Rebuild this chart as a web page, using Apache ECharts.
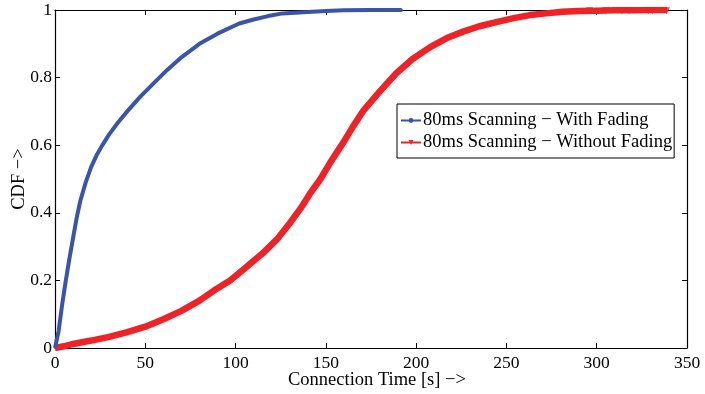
<!DOCTYPE html>
<html>
<head>
<meta charset="utf-8">
<script src="https://cdn.jsdelivr.net/npm/echarts@6/dist/echarts.min.js"></script>
<style>
html,body{margin:0;padding:0;background:#fff;}
#chart{width:705px;height:394px;}
</style>
</head>
<body>
<div id="chart"></div>
<script>
// ---- data ----
var seriesNames = ['80ms Scanning \u2212 With Fading', '80ms Scanning \u2212 Without Fading'];
var xTicks = [0, 50, 100, 150, 200, 250, 300, 350];
var yTicks = [0, 0.2, 0.4, 0.6, 0.8, 1];

var blueT = [0, 2, 4, 6, 8, 10, 12, 14, 17, 20, 23, 26, 30, 35, 40, 47, 55, 62, 70, 80, 90, 102, 110, 118, 126, 140, 150, 160, 175, 192];
var blueY = [0, 0.05, 0.13, 0.2, 0.265, 0.325, 0.385, 0.435, 0.49, 0.535, 0.57, 0.598, 0.632, 0.668, 0.70, 0.742, 0.785, 0.822, 0.86, 0.90, 0.93, 0.96, 0.972, 0.982, 0.99, 0.994, 0.997, 0.999, 1.0, 1.0];
var blueTailT = [160, 165, 169, 173, 177, 181, 185, 189, 192];
var blueTailY = [0.999, 0.999, 0.999, 0.999, 0.999, 0.999, 0.999, 0.999, 0.999];

var redT = [0, 5, 10, 20, 30, 40, 50, 60, 70, 80, 88, 97, 105, 115, 123, 130, 136, 141, 147, 152, 156, 160, 165, 171, 180, 189, 198, 208, 217, 226, 235, 245, 254, 263, 272, 281, 290, 300, 310, 320, 330, 339];
var redY = [0, 0.005, 0.012, 0.022, 0.033, 0.047, 0.063, 0.085, 0.11, 0.14, 0.17, 0.20, 0.235, 0.28, 0.322, 0.369, 0.413, 0.455, 0.50, 0.545, 0.578, 0.611, 0.655, 0.704, 0.76, 0.813, 0.855, 0.891, 0.917, 0.936, 0.952, 0.965, 0.976, 0.985, 0.99, 0.995, 0.997, 0.998, 0.999, 0.9995, 1.0, 1.0];
var redTailT = [296, 305, 314, 318, 328.5, 331, 338.6];
var redTailY = [0.998, 0.998, 0.998, 0.998, 0.998, 0.998, 0.998];

function pairs(a, b) { return a.map(function (v, i) { return [v, b[i]]; }); }

var BLUE = '#3a55a8', RED = '#ee2227';
var FONT = 'Liberation Serif, Times New Roman, serif';

var chart = echarts.init(document.getElementById('chart'), null, {renderer: 'canvas'});
function axisCommon() {
  return {
    axisLine: {show: true, onZero: false, lineStyle: {color: '#000', width: 1.2}},
    axisTick: {show: true, inside: true, length: 5, lineStyle: {color: '#000', width: 1}},
    splitLine: {show: false}
  };
}
chart.setOption({
  animation: false,
  backgroundColor: '#fff',
  grid: {left: 55, right: 18, top: 10, bottom: 46, containLabel: false, outerBoundsMode: 'none'},
  xAxis: [
    Object.assign({
      type: 'value', min: 0, max: 350, interval: 50, position: 'bottom',
      name: 'Connection Time [s] \u2212>', nameLocation: 'middle', nameGap: 23, nameMoveOverlap: false,
      nameTextStyle: {fontFamily: FONT, fontSize: 18.5, color: '#000', padding: [0, 0, 0, 12]},
      axisLabel: {fontFamily: FONT, fontSize: 17.5, color: '#000', margin: 6,
        formatter: function (v) { return xTicks.indexOf(v) >= 0 ? String(v) : ''; }}
    }, axisCommon()),
    Object.assign({
      type: 'value', min: 0, max: 350, interval: 50, position: 'top',
      axisLabel: {show: false}
    }, axisCommon())
  ],
  yAxis: [
    Object.assign({
      type: 'value', min: 0, max: 1, interval: 0.2, position: 'left',
      name: 'CDF \u2212>', nameLocation: 'middle', nameGap: 26, nameMoveOverlap: false,
      nameTextStyle: {fontFamily: FONT, fontSize: 18.5, color: '#000'},
      axisLabel: {fontFamily: FONT, fontSize: 17.5, color: '#000', margin: 3,
        formatter: function (v) {
          for (var i = 0; i < yTicks.length; i++) if (Math.abs(yTicks[i] - v) < 1e-9) return String(yTicks[i]);
          return '';
        }}
    }, axisCommon()),
    Object.assign({
      type: 'value', min: 0, max: 1, interval: 0.2, position: 'right',
      axisLabel: {show: false}
    }, axisCommon())
  ],
  legend: {
    orient: 'vertical', left: 397, top: 104,
    data: seriesNames,
    itemWidth: 20, itemHeight: 6, itemGap: 3,
    padding: [7, 2, 6, 3],
    borderColor: '#000', borderWidth: 1, borderRadius: 0,
    backgroundColor: '#fff',
    textStyle: {fontFamily: FONT, fontSize: 18.5, color: '#000', padding: [0, 0, 0, -3]}
  },
  series: [
    {
      name: seriesNames[0], type: 'line', data: pairs(blueT, blueY),
      xAxisIndex: 0, yAxisIndex: 0,
      symbol: 'circle', symbolSize: 3, showSymbol: false,
      lineStyle: {color: BLUE, width: 4}, itemStyle: {color: BLUE}, z: 3
    },
    {
      name: seriesNames[1], type: 'line', data: pairs(redT, redY),
      xAxisIndex: 0, yAxisIndex: 0,
      symbol: 'triangle', symbolRotate: 180, symbolSize: 7, showSymbol: false,
      lineStyle: {color: RED, width: 6.5}, itemStyle: {color: RED}, z: 2
    },
    {
      name: 'blueTail', type: 'scatter', data: pairs(blueTailT, blueTailY),
      symbol: 'circle', symbolSize: 3, itemStyle: {color: BLUE}, z: 3, silent: true
    },
    {
      name: 'redTail', type: 'scatter', data: pairs(redTailT, redTailY),
      symbol: 'triangle', symbolRotate: 180, symbolSize: 7, itemStyle: {color: RED}, z: 2, silent: true
    }
  ]
});
</script>
</body>
</html>
